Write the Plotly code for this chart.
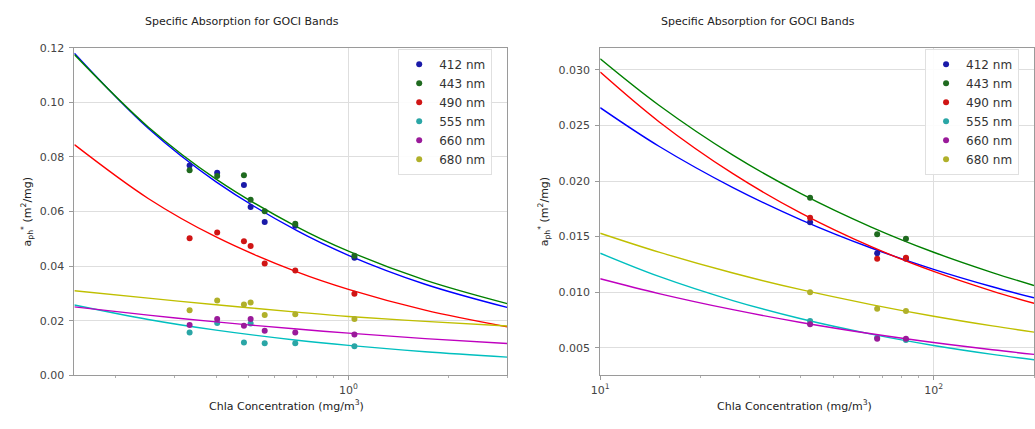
import plotly.graph_objects as go

W, H = 1035, 429

bands = ["412 nm", "443 nm", "490 nm", "555 nm", "660 nm", "680 nm"]
colors = ["#0000ff", "#008000", "#ff0000", "#00bfbf", "#bf00bf", "#bfbf00"]
marker_colors = ["#1a1aa8", "#1f6a1f", "#d01515", "#2aa6a6", "#9a1a9a", "#b0b02a"]

# ---- left panel data ----
chla_left = [0.333, 0.403, 0.485, 0.508, 0.560, 0.692, 1.042]
aph_412_l = [0.0769, 0.0742, 0.0697, 0.0617, 0.0562, 0.0548, 0.0431]
aph_443_l = [0.0751, 0.0730, 0.0733, 0.0643, 0.0601, 0.0555, 0.0438]
aph_490_l = [0.0502, 0.0523, 0.0491, 0.0474, 0.0410, 0.0384, 0.0299]
aph_555_l = [0.0157, 0.0192, 0.0121, 0.0190, 0.0118, 0.0118, 0.0107]
aph_660_l = [0.0185, 0.0207, 0.0182, 0.0207, 0.0164, 0.0157, 0.0150]
aph_680_l = [0.0239, 0.0274, 0.0260, 0.0267, 0.0221, 0.0224, 0.0207]

fitx_left = [0.15, 0.25, 0.4, 0.7, 1.0, 1.7, 3.0]
fit_412_l = [0.1180, 0.0905, 0.0709, 0.0530, 0.0440, 0.0334, 0.0249]
fit_443_l = [0.1175, 0.0910, 0.0719, 0.0544, 0.0455, 0.0349, 0.0263]
fit_490_l = [0.0845, 0.0648, 0.0507, 0.0379, 0.0315, 0.0239, 0.0178]
fit_555_l = [0.0258, 0.0205, 0.0166, 0.0129, 0.0110, 0.0087, 0.0067]
fit_660_l = [0.0251, 0.0221, 0.0196, 0.0170, 0.0155, 0.0135, 0.0117]
fit_680_l = [0.0310, 0.0283, 0.0259, 0.0232, 0.0216, 0.0198, 0.0181]

# ---- right panel data ----
chla_right = [42.6, 67.7, 82.6]
aph_412_r = [0.0163, 0.0135, 0.0130]
aph_443_r = [0.0185, 0.0152, 0.0148]
aph_490_r = [0.0167, 0.0130, 0.0131]
aph_555_r = [0.0074, 0.0059, 0.0057]
aph_660_r = [0.0071, 0.0058, 0.0058]
aph_680_r = [0.0100, 0.0085, 0.0083]

fitx_right = [10, 15, 25, 40, 65, 100, 150, 200]
fit_412_r = [0.0266, 0.02313, 0.01941, 0.01651, 0.01397, 0.01205, 0.01048, 0.00949]
fit_443_r = [0.0310, 0.02682, 0.02233, 0.01887, 0.01586, 0.01359, 0.01176, 0.01060]
fit_490_r = [0.0298, 0.02534, 0.02066, 0.01711, 0.01409, 0.01186, 0.01009, 0.00899]
fit_555_r = [0.0135, 0.01141, 0.00924, 0.00760, 0.00622, 0.00520, 0.00440, 0.00391]
fit_660_r = [0.0112, 0.00987, 0.00842, 0.00727, 0.00625, 0.00546, 0.00481, 0.00440]
fit_680_r = [0.0153, 0.01360, 0.01172, 0.01022, 0.00888, 0.00783, 0.00696, 0.00640]

title_text = "Specific Absorption for GOCI Bands"
xlabel = "Chla Concentration (mg/m<sup>3</sup>)"
ylabel = "a<sub>ph</sub><sup>*</sup> (m<sup>2</sup>/mg)"

pts_left = [aph_412_l, aph_443_l, aph_490_l, aph_555_l, aph_660_l, aph_680_l]
fits_left = [fit_412_l, fit_443_l, fit_490_l, fit_555_l, fit_660_l, fit_680_l]
pts_right = [aph_412_r, aph_443_r, aph_490_r, aph_555_r, aph_660_r, aph_680_r]
fits_right = [fit_412_r, fit_443_r, fit_490_r, fit_555_r, fit_660_r, fit_680_r]

FONT = "DejaVu Sans"
fig = go.Figure()

def add_panel(xa, ya, leg, chla, pts, fitx, fits):
    for i in range(len(bands)):
        fig.add_trace(go.Scatter(
            x=fitx, y=fits[i], mode="lines", line=dict(color=colors[i], width=1.4, shape="spline"),
            xaxis=xa, yaxis=ya, showlegend=False, hoverinfo="skip"))
        fig.add_trace(go.Scatter(
            x=chla, y=pts[i], mode="markers", name=bands[i],
            marker=dict(color=marker_colors[i], size=6), xaxis=xa, yaxis=ya,
            legend=leg, showlegend=True))

add_panel("x", "y", "legend", chla_left, pts_left, fitx_left, fits_left)
add_panel("x2", "y2", "legend2", chla_right, pts_right, fitx_right, fits_right)

def px(x):
    return x / W

def py(y):
    return 1 - y / H

ydom = [py(381), py(43)]
axis_common = dict(showline=True, mirror=True, linecolor="#9a9a9a", linewidth=1,
                   ticks="outside", ticklen=4, tickcolor="#9a9a9a",
                   gridcolor="#dedede", gridwidth=1, zeroline=False,
                   tickfont=dict(family=FONT, size=11, color="#444444"))

minor_left = [0.2, 0.3, 0.4, 0.5, 0.6, 0.7, 0.8, 0.9, 2, 3]
minor_right = [20, 30, 40, 50, 60, 70, 80, 90, 200]

def ann(text, x, y, angle=0):
    return dict(text=text, x=px(x), y=py(y), xref="paper", yref="paper", showarrow=False,
                xanchor="center", yanchor="middle", textangle=angle,
                font=dict(family=FONT, size=11, color="#222222"))

legend_style = dict(xanchor="left", yanchor="top",
                    bgcolor="rgba(255,255,255,0.9)", bordercolor="#e0e0e0", borderwidth=1,
                    font=dict(family=FONT, size=12, color="#333333"), tracegroupgap=0,
                    itemwidth=30)

fig.update_layout(
    width=W, height=H, margin=dict(l=0, r=0, t=0, b=0),
    paper_bgcolor="white", plot_bgcolor="white",
    xaxis=dict(domain=[px(66), px(503)], type="log", range=[-0.824, 0.477],
               tickvals=[1], ticktext=["10<sup>0</sup>"],
               minor=dict(tickvals=minor_left, ticks="outside", ticklen=2, tickcolor="#b0b0b0", showgrid=False),
               anchor="y", **axis_common),
    yaxis=dict(domain=ydom, range=[0, 0.12], tickvals=[0, 0.02, 0.04, 0.06, 0.08, 0.10, 0.12],
               tickformat=".2f", anchor="x", ticklabelstandoff=3, **axis_common),
    xaxis2=dict(domain=[px(597), 1.0], type="log", range=[1, 2.301],
                tickvals=[10, 100], ticktext=["10<sup>1</sup>", "10<sup>2</sup>"],
                minor=dict(tickvals=minor_right, ticks="outside", ticklen=2, tickcolor="#b0b0b0", showgrid=False),
                anchor="y2", **axis_common),
    yaxis2=dict(domain=ydom, range=[0.0025, 0.032],
                tickvals=[0.005, 0.010, 0.015, 0.020, 0.025, 0.030],
                tickformat=".3f", anchor="x2", ticklabelstandoff=3, **axis_common),
    legend=dict(x=px(393), y=py(44), **legend_style),
    legend2=dict(x=px(925), y=py(44), **legend_style),
    annotations=[
        ann(title_text, 235, 16),
        ann(title_text, 756, 16),
        ann(xlabel, 280, 412),
        ann(xlabel, 793, 412),
        ann(ylabel, 18, 212, -90),
        ann(ylabel, 540, 212, -90),
    ],
)

fig.write_html("out.html")
